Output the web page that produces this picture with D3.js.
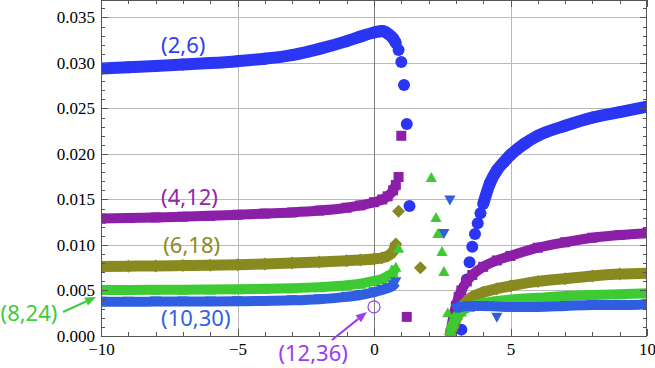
<!DOCTYPE html>
<html>
<head>
<meta charset="utf-8">
<script src="https://cdn.jsdelivr.net/npm/d3@7"></script>
<style>
  body { margin: 0; background: #fff; }
  svg { display: block; }
  .tick text { font-family: "Liberation Serif", "DejaVu Serif", serif; font-size: 17px; }
</style>
</head>
<body>
<div id="chart"></div>
<script>
// ---- data ----
// shared x grid of the dense left-hand branch
var xLeft = [-10, -9, -8, -7, -6, -5, -4, -3, -2, -1, -0.5, 0, 0.3, 0.5, 0.7, 0.8];

// (2,6) filled circles
var c26Left   = [0.02940, 0.02953, 0.02967, 0.02982, 0.02999, 0.03020, 0.03047, 0.03087, 0.03155, 0.03240, 0.03290, 0.03335, 0.03350, 0.03325, 0.03270, 0.03220];
var c26LooseX = [0.9, 1.0, 1.1, 1.2, 1.3, 3.2, 3.3, 3.4, 3.5, 3.6, 3.7, 3.8, 3.9];
var c26LooseY = [0.03143, 0.03011, 0.02758, 0.02330, 0.01429, 0.0007, 0.0037, 0.0062, 0.0081, 0.0098, 0.0112, 0.0124, 0.0135];
var c26RightX = [4, 4.25, 4.5, 4.75, 5, 5.5, 6, 7, 8, 9, 10];
var c26RightY = [0.0145, 0.0168, 0.0182, 0.0191, 0.0199, 0.0211, 0.0220, 0.0231, 0.0240, 0.0246, 0.0252];

// (4,12) squares
var s412Left   = [0.01290, 0.01296, 0.01303, 0.01311, 0.01320, 0.01332, 0.01345, 0.01358, 0.01378, 0.01410, 0.01435, 0.01470, 0.01500, 0.01535, 0.01600, 0.01660];
var s412LooseX = [0.9, 1.0, 1.2];
var s412LooseY = [0.01747, 0.02200, 0.00210];
var s412RightX = [2.8, 2.9, 3.0, 3.1, 3.2, 3.4, 3.6, 4, 4.5, 5, 6, 7, 8, 9, 10];
var s412RightY = [0.0003, 0.0021, 0.0033, 0.0043, 0.0050, 0.0060, 0.0067, 0.0076, 0.0083, 0.0088, 0.0097, 0.0103, 0.0108, 0.0111, 0.0113];

// (6,18) diamonds
var d618Left   = [0.00764, 0.00767, 0.00770, 0.00774, 0.00778, 0.00784, 0.00792, 0.00802, 0.00814, 0.00828, 0.00836, 0.00846, 0.00860, 0.00880, 0.00930, 0.01010];
var d618LooseX = [0.9, 1.7];
var d618LooseY = [0.0137, 0.0075];
var d618RightX = [2.8, 2.9, 3.0, 3.1, 3.2, 3.4, 3.6, 4, 4.5, 5, 6, 7, 8, 9, 10];
var d618RightY = [0.0002, 0.0010, 0.0018, 0.0024, 0.0031, 0.0038, 0.0043, 0.0048, 0.0052, 0.0055, 0.0060, 0.0063, 0.0066, 0.0068, 0.0069];

// (8,24) up triangles
var t824Left   = [0.00505, 0.00506, 0.00507, 0.00508, 0.00510, 0.00513, 0.00518, 0.00525, 0.00537, 0.00557, 0.00575, 0.00605, 0.00628, 0.00660, 0.00700, 0.00760];
var t824LooseX = [0.9, 2.1, 2.27, 2.34, 2.49, 2.56, 2.7];
var t824LooseY = [0.0097, 0.01747, 0.01308, 0.01132, 0.00934, 0.00714, 0.0026];
var t824RightX = [2.8, 2.9, 3.0, 3.2, 3.5, 4, 5, 6, 7, 8, 9, 10];
var t824RightY = [0.0006, 0.0014, 0.0020, 0.0027, 0.0032, 0.0036, 0.0040, 0.0042, 0.0044, 0.0045, 0.0046, 0.0047];

// (10,30) down triangles
var v1030Left   = [0.00377, 0.00377, 0.00378, 0.00379, 0.00380, 0.00382, 0.00385, 0.00392, 0.00405, 0.00430, 0.00450, 0.00482, 0.00505, 0.00525, 0.00555, 0.00590];
var v1030LooseX = [2.56, 2.78, 4.5];
var v1030LooseY = [0.0112, 0.0149, 0.0020];
var v1030RightX = [3.0, 3.2, 3.5, 4, 5, 6, 7, 8, 9, 10];
var v1030RightY = [0.0030, 0.0032, 0.0033, 0.0033, 0.0032, 0.0032, 0.0033, 0.0034, 0.0034, 0.0035];

// (12,36) single open circle
var o1236X = [0];
var o1236Y = [0.0032];

// labels and arrows (data coordinates)
var labelText = ["(2,6)", "(4,12)", "(6,18)", "(8,24)", "(10,30)", "(12,36)"];
var labelX    = [-7.8, -7.8, -7.72, -13.68, -7.8, -3.5];
var labelY    = [0.0311, 0.0144, 0.0091, 0.00165, 0.0011, -0.00275];
var arrowFromX = [-11.39, -1.54];
var arrowFromY = [0.00264, -0.00044];
var arrowToX   = [-10.18, -0.26];
var arrowToY   = [0.00429, 0.00264];

var xTicks = [-10, -5, 0, 5, 10];
var yTicks = [0, 0.005, 0.010, 0.015, 0.020, 0.025, 0.030, 0.035];

// ---- layout ----
var W = 655, H = 368;
var plot = { left: 101, right: 647, top: 0, bottom: 336 };

var x = d3.scaleLinear().domain([-10, 10]).range([plot.left, plot.right]);
var y = d3.scaleLinear().domain([0, 0.03692]).range([plot.bottom, plot.top]);

var svg = d3.select("#chart").append("svg")
    .attr("width", W)
    .attr("height", H);

// grid lines
var grid = svg.append("g").attr("shape-rendering", "crispEdges");
grid.selectAll(".hg").data(yTicks.slice(1)).enter().append("line")
    .attr("x1", plot.left).attr("x2", plot.right)
    .attr("y1", function (d) { return Math.round(y(d)) + 0.5; })
    .attr("y2", function (d) { return Math.round(y(d)) + 0.5; })
    .attr("stroke", "#b9b9b9");
grid.selectAll(".vg").data([-5, 5]).enter().append("line")
    .attr("y1", plot.top).attr("y2", plot.bottom)
    .attr("x1", function (d) { return Math.round(x(d)) + 0.5; })
    .attr("x2", function (d) { return Math.round(x(d)) + 0.5; })
    .attr("stroke", "#b9b9b9");
grid.append("line")
    .attr("y1", plot.top).attr("y2", plot.bottom)
    .attr("x1", Math.round(x(0)) + 0.5).attr("x2", Math.round(x(0)) + 0.5)
    .attr("stroke", "#7d7d7d");

// clip for the data
svg.append("clipPath").attr("id", "clip")
  .append("rect")
    .attr("x", plot.left).attr("y", plot.top)
    .attr("width", plot.right - plot.left).attr("height", plot.bottom - plot.top);

// custom marker shapes, size = radius in px
var shapes = {
    circle: { draw: function (c, r) { c.moveTo(r, 0); c.arc(0, 0, r, 0, 2 * Math.PI); } },
    square: { draw: function (c, r) { c.rect(-r, -r, 2 * r, 2 * r); } },
    diamond: { draw: function (c, r) { c.moveTo(0, -r); c.lineTo(r, 0); c.lineTo(0, r); c.lineTo(-r, 0); c.closePath(); } },
    up: { draw: function (c, r) { c.moveTo(0, -r); c.lineTo(r * 1.12, r); c.lineTo(-r * 1.12, r); c.closePath(); } },
    down: { draw: function (c, r) { c.moveTo(0, r); c.lineTo(r * 1.12, -r); c.lineTo(-r * 1.12, -r); c.closePath(); } }
};

function zip(xs, ys) { return xs.map(function (v, i) { return [v, ys[i]]; }); }

var series = [
    { shape: "circle",  r: 6,   band: 12, color: "#2a36f3", left: c26Left,   looseX: c26LooseX,   looseY: c26LooseY,   rightX: c26RightX,   rightY: c26RightY },
    { shape: "square",  r: 5,   band: 10, color: "#8b1fa7", left: s412Left,  looseX: s412LooseX,  looseY: s412LooseY,  rightX: s412RightX,  rightY: s412RightY },
    { shape: "diamond", r: 6.5, band: 11, color: "#888a20", left: d618Left,  looseX: d618LooseX,  looseY: d618LooseY,  rightX: d618RightX,  rightY: d618RightY },
    { shape: "up",      r: 5,   band: 10, color: "#3dca33", left: t824Left,  looseX: t824LooseX,  looseY: t824LooseY,  rightX: t824RightX,  rightY: t824RightY },
    { shape: "down",    r: 5,   band: 10, color: "#2f5fe0", left: v1030Left, looseX: v1030LooseX, looseY: v1030LooseY, rightX: v1030RightX, rightY: v1030RightY }
];

var line = d3.line()
    .x(function (d) { return x(d[0]); })
    .y(function (d) { return y(d[1]); })
    .curve(d3.curveMonotoneX);

var data = svg.append("g").attr("clip-path", "url(#clip)");

series.forEach(function (s) {
    var g = data.append("g");
    var leftPts = zip(xLeft, s.left);
    var rightPts = zip(s.rightX, s.rightY);
    var loosePts = zip(s.looseX, s.looseY);

    // dense runs of overlapping markers drawn as a thick band
    [leftPts, rightPts].forEach(function (pts) {
        g.append("path")
            .attr("d", line(pts))
            .attr("fill", "none")
            .attr("stroke", s.color)
            .attr("stroke-width", s.band)
            .attr("stroke-linejoin", "round");
    });

    var sym = d3.symbol().type(shapes[s.shape]).size(s.r);
    g.selectAll("path.pt")
        .data(leftPts.concat(rightPts, loosePts))
        .enter().append("path")
        .attr("class", "pt")
        .attr("transform", function (d) { return "translate(" + x(d[0]) + "," + y(d[1]) + ")"; })
        .attr("d", sym)
        .attr("fill", s.color);
});

// (12,36) open circle
data.selectAll(".open").data(zip(o1236X, o1236Y)).enter().append("circle")
    .attr("cx", function (d) { return x(d[0]); })
    .attr("cy", function (d) { return y(d[1]); })
    .attr("r", 6)
    .attr("fill", "none")
    .attr("stroke", "#9b3cf4")
    .attr("stroke-width", 1.2);

// ---- frame, ticks, tick labels ----
function axisStyle(g) {
    g.attr("font-family", "Liberation Serif, DejaVu Serif, serif").attr("font-size", 17);
    g.select(".domain").remove();
    g.selectAll("line").attr("stroke", "#555");
    g.selectAll("text").attr("fill", "#000");
}

var minorY = d3.range(0, 37).map(function (i) { return i / 1000; });
var minorX = d3.range(-10, 11);

var axes = svg.append("g").attr("shape-rendering", "crispEdges");

axes.append("g").attr("transform", "translate(" + plot.left + ",0)")
    .call(d3.axisLeft(y).tickValues(minorY).tickSize(-4).tickFormat(""))
    .call(axisStyle);
axes.append("g").attr("transform", "translate(" + plot.left + ",0)")
    .call(d3.axisLeft(y).tickValues(yTicks).tickSize(-7).tickPadding(6).tickFormat(d3.format(".3f")))
    .call(axisStyle);
axes.append("g").attr("transform", "translate(" + plot.right + ",0)")
    .call(d3.axisRight(y).tickValues(minorY).tickSize(-4).tickFormat(""))
    .call(axisStyle);
axes.append("g").attr("transform", "translate(" + plot.right + ",0)")
    .call(d3.axisRight(y).tickValues(yTicks).tickSize(-7).tickFormat(""))
    .call(axisStyle);
axes.append("g").attr("transform", "translate(0," + plot.bottom + ")")
    .call(d3.axisBottom(x).tickValues(minorX).tickSize(-4).tickFormat(""))
    .call(axisStyle);
axes.append("g").attr("transform", "translate(0," + plot.bottom + ")")
    .call(d3.axisBottom(x).tickValues(xTicks).tickSize(-7).tickPadding(7).tickFormat(d3.format("d")))
    .call(axisStyle);
axes.append("g").attr("transform", "translate(0," + plot.top + ")")
    .call(d3.axisTop(x).tickValues(minorX).tickSize(-4).tickFormat(""))
    .call(axisStyle);
axes.append("g").attr("transform", "translate(0," + plot.top + ")")
    .call(d3.axisTop(x).tickValues(xTicks).tickSize(-7).tickFormat(""))
    .call(axisStyle);

axes.append("rect")
    .attr("x", plot.left + 0.5).attr("y", plot.top + 0.5)
    .attr("width", plot.right - plot.left - 1).attr("height", plot.bottom - plot.top - 0.5)
    .attr("fill", "none")
    .attr("stroke", "#555");

// ---- series labels and arrows ----
var labelColor = ["#2b3ff0", "#8f27a8", "#8c8a1d", "#3fcb3a", "#2f62e0", "#9a3cf0"];

svg.selectAll(".lab").data(labelText).enter().append("text")
    .attr("x", function (d, i) { return x(labelX[i]); })
    .attr("y", function (d, i) { return y(labelY[i]); })
    .attr("fill", function (d, i) { return labelColor[i]; })
    .style("font-family", "'Noto Sans', 'DejaVu Sans', sans-serif")
    .style("font-size", "22px")
    .text(function (d) { return d; });

var arrowColor = [labelColor[3], labelColor[5]];
arrowFromX.forEach(function (v, i) {
    var x1 = x(v), y1 = y(arrowFromY[i]);
    var x2 = x(arrowToX[i]), y2 = y(arrowToY[i]);
    var a = Math.atan2(y2 - y1, x2 - x1);
    var len = 11, half = 4.5;
    var bx = x2 - len * Math.cos(a), by = y2 - len * Math.sin(a);
    svg.append("line")
        .attr("x1", x1).attr("y1", y1).attr("x2", bx).attr("y2", by)
        .attr("stroke", arrowColor[i]).attr("stroke-width", 2);
    svg.append("path")
        .attr("d", "M" + x2 + "," + y2 +
                   "L" + (bx + half * Math.sin(a)) + "," + (by - half * Math.cos(a)) +
                   "L" + (bx - half * Math.sin(a)) + "," + (by + half * Math.cos(a)) + "Z")
        .attr("fill", arrowColor[i]);
});
</script>
</body>
</html>
